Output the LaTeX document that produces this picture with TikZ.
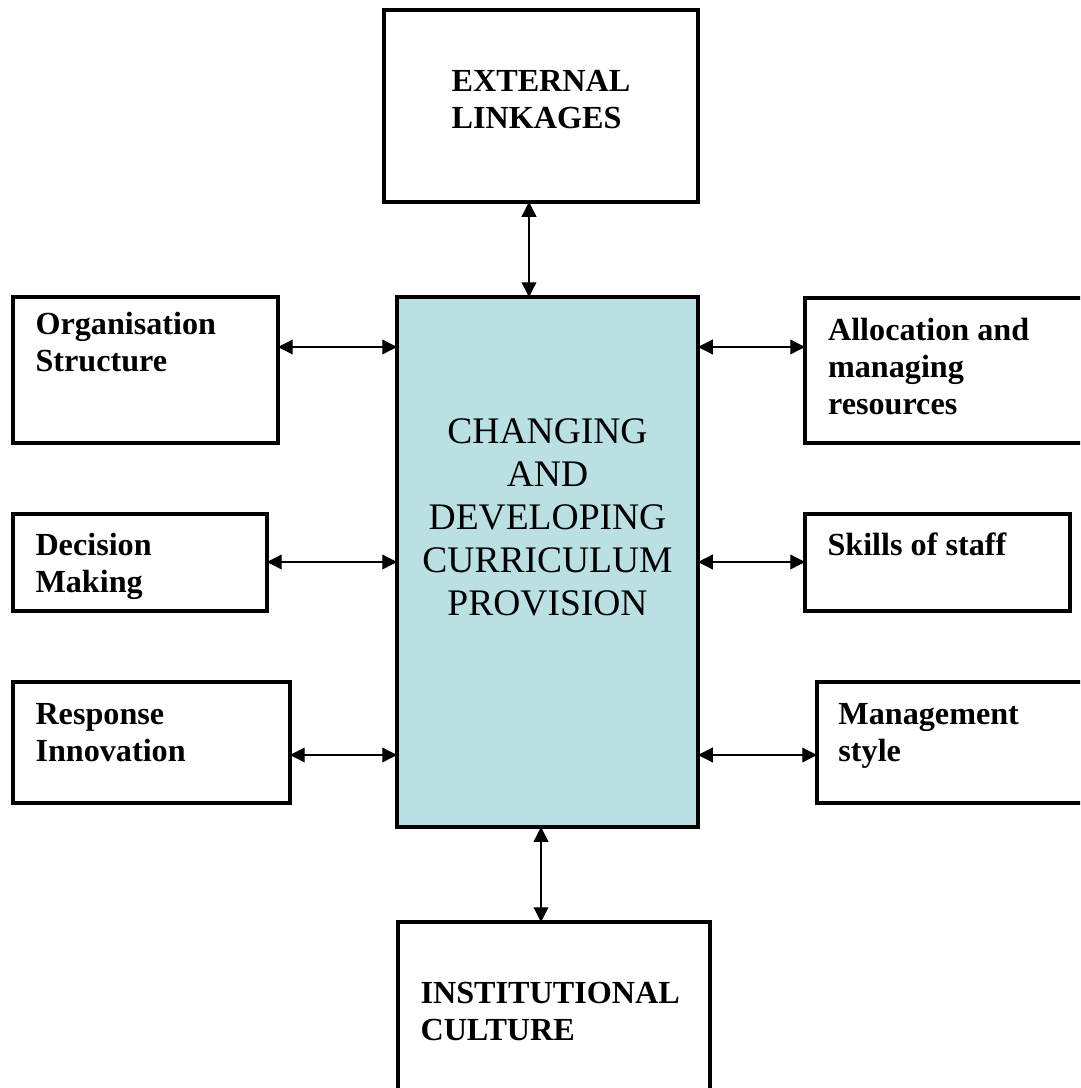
\documentclass[tikz,border=0pt]{standalone}
\usepackage{fontspec}
\setmainfont{Liberation Serif}
\usepackage{xcolor}
\usetikzlibrary{positioning, arrows.meta}

\definecolor{paleteal}{RGB}{186,224,227}
\def\pix{0.373pt}

\tikzstyle{box} = [draw, line width=1.2pt, rectangle, anchor=north west, inner sep=0pt, outer sep=0pt]
\tikzstyle{tag} = [font=\fontsize{12}{13.8}\selectfont\bfseries, align=left, inner sep=0pt]
\tikzstyle{link} = [{Triangle[length=5.5pt,width=5.5pt]}-{Triangle[length=5.5pt,width=5.5pt]}, line width=0.5pt]

\begin{document}
\begin{tikzpicture}[x=\pix, y=-\pix]
		\useasboundingbox (0,0) rectangle (1080,1088);
		\clip (0,0) rectangle (1080,1088);
		
		% centre block
		\node[box, fill=paleteal, minimum width=301*\pix, minimum height=530*\pix] (centre) at (397,297) {};
		\node[font=\fontsize{14}{16.1}\selectfont, align=center, inner sep=0pt, below=45pt of centre.north] (centretxt) {CHANGING\\AND\\DEVELOPING\\CURRICULUM\\PROVISION};
		
		% top and bottom
		\node[box, minimum width=314*\pix, minimum height=192*\pix] (ext) at (384,10) {};
		\node[tag, below=22.4pt of ext.north] (exttxt) {EXTERNAL\\LINKAGES};
		\node[box, minimum width=312*\pix, minimum height=200*\pix] (inst) at (398,922) {};
		\node[tag, below right=22.4pt and 8.2pt of inst.north west] (insttxt) {INSTITUTIONAL\\CULTURE};
		
		% left column
		\node[box, minimum width=265*\pix, minimum height=146*\pix] (org) at (13,297) {};
		\node[tag, below right=5.6pt and 8.2pt of org.north west] (orgtxt) {Organisation\\Structure};
		\node[box, minimum width=254*\pix, minimum height=97*\pix] (dec) at (13,514) {};
		\node[tag, below right=7pt and 8.2pt of dec.north west] (dectxt) {Decision\\Making};
		\node[box, minimum width=277*\pix, minimum height=121*\pix] (resp) at (13,682) {};
		\node[tag, below right=7.8pt and 8.2pt of resp.north west] (resptxt) {Response\\Innovation};
		
		% right column
		\node[box, minimum width=290*\pix, minimum height=145*\pix] (alloc) at (805,298) {};
		\node[tag, below right=7.5pt and 8.4pt of alloc.north west] (alloctxt) {Allocation and\\managing\\resources};
		\node[box, minimum width=265*\pix, minimum height=97*\pix] (skills) at (805,514) {};
		\node[tag, below right=7pt and 8.2pt of skills.north west] (skillstxt) {Skills of staff};
		\node[box, minimum width=280*\pix, minimum height=121*\pix] (mgmt) at (817,682) {};
		\node[tag, below right=7.8pt and 7.8pt of mgmt.north west] (mgmttxt) {Management\\style};
		
		% rows and columns of the arrows
		\coordinate (rowa) at (0,347);
		\coordinate (rowb) at (0,562);
		\coordinate (rowc) at (0,755);
		\coordinate (colt) at (529,0);
		\coordinate (colb) at (541,0);
		
		% connections
		\draw[link] (ext.south -| colt) -- (centre.north -| colt);
		\draw[link] (centre.south -| colb) -- (inst.north -| colb);
		\draw[link] (org.east |- rowa) -- (centre.west |- rowa);
		\draw[link] (dec.east |- rowb) -- (centre.west |- rowb);
		\draw[link] (resp.east |- rowc) -- (centre.west |- rowc);
		\draw[link] (centre.east |- rowa) -- (alloc.west |- rowa);
		\draw[link] (centre.east |- rowb) -- (skills.west |- rowb);
		\draw[link] (centre.east |- rowc) -- (mgmt.west |- rowc);
		
	\end{tikzpicture}
\end{document}
